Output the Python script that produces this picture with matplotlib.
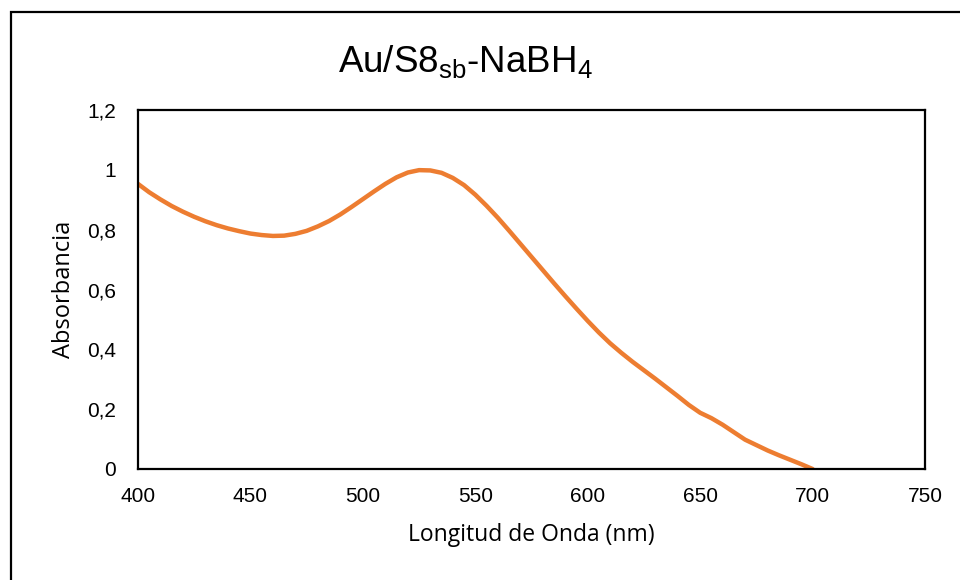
import matplotlib
matplotlib.use("Agg")
import matplotlib.pyplot as plt
from matplotlib.patches import Rectangle
from matplotlib.ticker import FuncFormatter, MultipleLocator

longitud_onda = [400, 405, 410, 415, 420, 425, 430, 435, 440, 445, 450, 455, 460, 465,
                 470, 475, 480, 485, 490, 495, 500, 505, 510, 515, 520, 525, 530, 535,
                 540, 545, 550, 555, 560, 565, 570, 575, 580, 585, 590, 595, 600, 605,
                 610, 615, 620, 625, 630, 635, 640, 645, 650, 655, 660, 665, 670, 675,
                 680, 685, 690, 695, 700]
absorbancia = [0.953, 0.925, 0.901, 0.879, 0.860, 0.843, 0.828, 0.815, 0.804, 0.795,
               0.787, 0.782, 0.779, 0.780, 0.786, 0.796, 0.811, 0.829, 0.851, 0.876,
               0.902, 0.928, 0.953, 0.975, 0.991, 0.999, 0.998, 0.990, 0.973, 0.949,
               0.917, 0.880, 0.840, 0.797, 0.753, 0.709, 0.665, 0.621, 0.578, 0.536,
               0.495, 0.456, 0.420, 0.388, 0.358, 0.330, 0.302, 0.273, 0.244, 0.214,
               0.188, 0.170, 0.148, 0.123, 0.098, 0.080, 0.062, 0.046, 0.031, 0.016,
               0.0]

plt.rcParams['font.family'] = ['Liberation Sans', 'DejaVu Sans']
plt.rcParams['mathtext.default'] = 'regular'

fig = plt.figure(figsize=(9.6, 5.8), dpi=100)
ax = fig.add_axes([138 / 960, 111 / 580, 787 / 960, 359 / 580])

ax.plot(longitud_onda, absorbancia, color='#ED7D31', linewidth=3.2, solid_capstyle='round')


def coma(v, pos):
    if abs(v - round(v)) < 1e-9:
        return f"{int(round(v))}"
    return f"{v:.1f}".replace('.', ',')


ax.set_xlim(400, 750)
ax.set_ylim(0, 1.2)
ax.xaxis.set_major_locator(MultipleLocator(50))
ax.yaxis.set_major_locator(MultipleLocator(0.2))
ax.yaxis.set_major_formatter(FuncFormatter(coma))
ax.tick_params(axis='x', length=0, labelsize=15, pad=13)
ax.tick_params(axis='y', length=0, labelsize=15, pad=16)
for s in ax.spines.values():
    s.set_linewidth(1.6)

ax.set_xlabel("Longitud de Onda (nm)", fontsize=16.5, labelpad=12, family='Open Sans')
ax.set_ylabel("Absorbancia", fontsize=17, labelpad=8, family='Open Sans')
fig.text(465 / 960, 1 - 62 / 580, r"Au/S8$_{sb}$-NaBH$_{4}$", fontsize=26.5,
         ha='center', va='center')

# marco exterior
fig.patches.append(Rectangle((11 / 960, -0.1), 2, 568 / 580 + 0.1, transform=fig.transFigure,
                             fill=False, edgecolor='black', linewidth=1.6))

fig.savefig("out.png", dpi=100)
